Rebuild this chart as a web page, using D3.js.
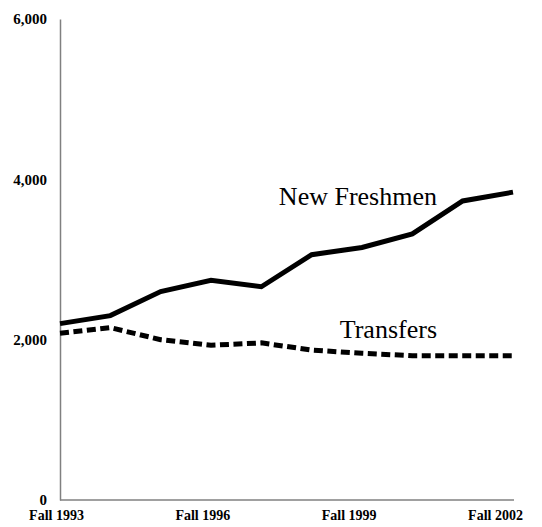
<!DOCTYPE html>
<html>
<head>
<meta charset="utf-8">
<script src="https://cdn.jsdelivr.net/npm/d3@7"></script>
<style>
  html, body { margin: 0; padding: 0; background: #fff; }
  svg { display: block; }
</style>
</head>
<body>
<div id="chart"></div>
<script>
const terms = ["Fall 1993", "Fall 1994", "Fall 1995", "Fall 1996", "Fall 1997",
    "Fall 1998", "Fall 1999", "Fall 2000", "Fall 2001", "Fall 2002"];
const freshmen = [2200, 2300, 2600, 2740, 2660, 3060, 3150, 3320, 3730, 3840];
const transfers = [2080, 2150, 2000, 1930, 1960, 1870, 1830, 1800, 1800, 1800];
const yTicks = [0, 2000, 4000, 6000];
const xLabels = ["Fall 1993", "Fall 1996", "Fall 1999", "Fall 2002"];

const width = 542;
const height = 527;
const margin = { top: 19, right: 29, bottom: 27, left: 60 };

const svg = d3.select("#chart").append("svg")
    .attr("width", width)
    .attr("height", height);

const xScale = d3.scalePoint()
    .domain(terms)
    .range([margin.left, width - margin.right]);

// category labels sit slightly inside the plotted points
const labelScale = d3.scalePoint()
    .domain(xLabels)
    .range([56, 495]);

const yScale = d3.scaleLinear()
    .domain([0, 6000])
    .range([height - margin.bottom, margin.top]);

const font = "'Liberation Serif', 'DejaVu Serif', serif";

// y axis
const yAxis = svg.append("g")
    .attr("transform", `translate(${margin.left}, 0)`)
    .call(d3.axisLeft(yScale).tickValues(yTicks).tickSize(0).tickPadding(13)
        .tickFormat(d3.format(",")));
yAxis.select(".domain").attr("stroke", "#808080").attr("stroke-width", 1.5);
yAxis.selectAll("text")
    .attr("font-family", font)
    .attr("font-size", 15)
    .attr("font-weight", "bold")
    .attr("fill", "#000");

// x axis line
svg.append("line")
    .attr("x1", margin.left)
    .attr("x2", xScale(terms[terms.length - 1]) + 1)
    .attr("y1", yScale(0))
    .attr("y2", yScale(0))
    .attr("stroke", "#808080")
    .attr("stroke-width", 1.5);

const xAxis = svg.append("g")
    .attr("transform", `translate(0, ${yScale(0)})`)
    .call(d3.axisBottom(labelScale).tickSize(0).tickPadding(10));
xAxis.select(".domain").remove();
xAxis.selectAll("text")
    .attr("font-family", font)
    .attr("font-size", 14)
    .attr("font-weight", "bold")
    .attr("fill", "#000");

const line = d3.line()
    .x((d, i) => xScale(terms[i]))
    .y((d) => yScale(d));

svg.append("path")
    .datum(freshmen)
    .attr("fill", "none")
    .attr("stroke", "#000")
    .attr("stroke-width", 5)
    .attr("d", line);

svg.append("path")
    .datum(transfers)
    .attr("fill", "none")
    .attr("stroke", "#000")
    .attr("stroke-width", 5)
    .attr("stroke-dasharray", "9,4.5")
    .attr("d", line);

svg.append("text")
    .attr("x", 437)
    .attr("y", 205)
    .attr("text-anchor", "end")
    .attr("font-family", font)
    .attr("font-size", 26)
    .attr("fill", "#000")
    .text("New Freshmen");

svg.append("text")
    .attr("x", 437)
    .attr("y", 338)
    .attr("text-anchor", "end")
    .attr("font-family", font)
    .attr("font-size", 26)
    .attr("fill", "#000")
    .text("Transfers");
</script>
</body>
</html>
